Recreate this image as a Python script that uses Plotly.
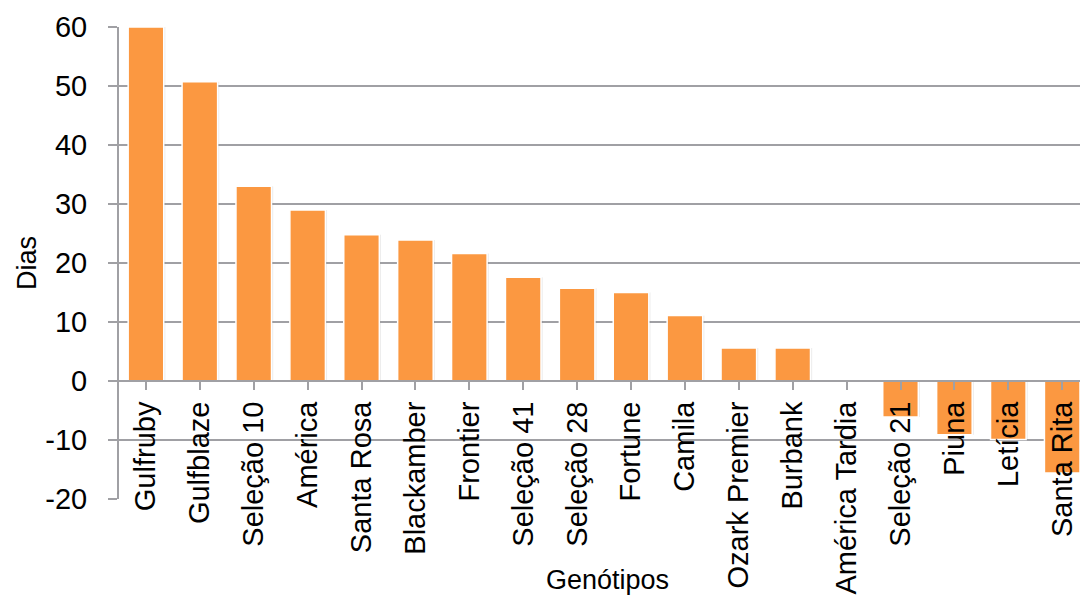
import plotly.graph_objects as go

# Genotypes and number of days
genotipos = ["Gulfruby", "Gulfblaze", "Seleção 10", "América", "Santa Rosa",
             "Blackamber", "Frontier", "Seleção 41", "Seleção 28", "Fortune",
             "Camila", "Ozark Premier", "Burbank", "América Tardia",
             "Seleção 21", "Piuna", "Letícia", "Santa Rita"]
dias = [60.0, 50.7, 33.0, 29.0, 24.8, 23.9, 21.6, 17.6, 15.7, 15.0,
        11.1, 5.6, 5.6, 0.0, -6.1, -9.1, -9.9, -15.6]

y_ticks = [-20, -10, 0, 10, 20, 30, 40, 50, 60]
y_ticktext = ["-20", "-10", "0", "10", "20", "30", "40", "50", "60"]

FONT = "Liberation Sans, Arial, sans-serif"
GRID = "#A0A0A4"
BAR = "#FB9841"
FS_TICK = 29
FS_TITLE = 27

fig = go.Figure()

# soft drop shadow beneath the bars
fig.add_trace(go.Bar(
    x=list(range(len(genotipos))), y=dias, width=0.68, offset=-0.32,
    marker=dict(color="rgba(90,90,90,0.13)", line=dict(width=0)),
    hoverinfo="skip", showlegend=False,
))
fig.add_trace(go.Bar(
    x=list(range(len(genotipos))), y=dias, width=0.66, offset=-0.33,
    marker=dict(color=BAR, line=dict(color="white", width=1.5)),
    showlegend=False,
))

fig.update_layout(
    width=1080, height=599,
    margin=dict(l=119, r=0, t=27, b=100),
    plot_bgcolor="white", paper_bgcolor="white",
    barmode="overlay",
    font=dict(family=FONT, size=FS_TITLE, color="black"),
    xaxis=dict(
        range=[-0.5, 17.33],
        tickmode="array",
        tickvals=list(range(len(genotipos))),
        ticktext=genotipos,
        tickangle=-90,
        tickson="boundaries",
        ticks="outside", ticklen=8, tickwidth=1.5, tickcolor=GRID,
        showline=True, linecolor=GRID, linewidth=2,
        showgrid=False, zeroline=False,
        anchor="free", position=0.25,
        tickfont=dict(family=FONT, size=FS_TICK, color="black"),
        ticklabelstandoff=0,
    ),
    yaxis=dict(
        range=[-20, 60],
        tickmode="array", tickvals=y_ticks, ticktext=y_ticktext,
        ticks="outside", ticklen=9, tickwidth=1.5, tickcolor=GRID,
        showline=True, linecolor=GRID, linewidth=2,
        showgrid=True, gridcolor=GRID, gridwidth=1.5,
        zeroline=False,
        tickfont=dict(family=FONT, size=FS_TICK, color="black"),
        ticklabelstandoff=15,
    ),
    annotations=[
        dict(text="Dias", x=27, y=263, xref="paper", yref="paper",
             xanchor="center", yanchor="middle",
             showarrow=False, textangle=-90, font=dict(size=FS_TITLE)),
        dict(text="Genótipos", x=607, y=580, xref="paper", yref="paper",
             xanchor="center", yanchor="middle",
             showarrow=False, font=dict(size=FS_TITLE)),
    ],
)

# annotation positions given in pixels; convert to paper fractions
pw = 1080 - 119 - 0
ph = 599 - 27 - 100
for a in fig.layout.annotations:
    a.x = (a.x - 119) / pw
    a.y = (599 - 100 - a.y) / ph

fig.write_html("out.html")
